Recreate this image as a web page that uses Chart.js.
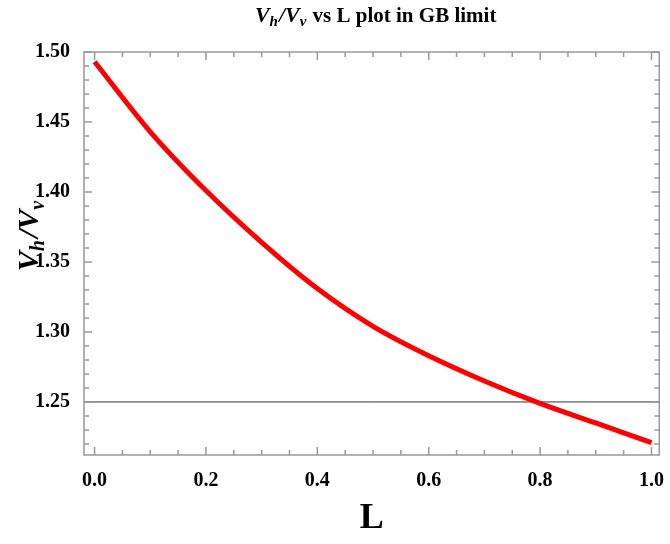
<!DOCTYPE html>
<html><head><meta charset="utf-8">
<script src="https://cdn.jsdelivr.net/npm/chart.js@4"></script>
<style>html,body{margin:0;padding:0;background:#fff}#w{width:670px;height:544px}</style>
</head><body><div id="w"><canvas id="c"></canvas></div>
<script>
const Lvals = [0,0.1,0.2,0.3,0.4,0.5,0.6,0.7,0.8,0.9,1.0];
const ratio = [1.493,1.443,1.401,1.364,1.331,1.304,1.283,1.265,1.249,1.235,1.221];
const refLine = 1.25;
const xTicks = [0,0.2,0.4,0.6,0.8,1.0];
const yTicks = [1.25,1.30,1.35,1.40,1.45,1.50];
const serif = '"Liberation Serif","DejaVu Serif",serif';

function drawSub(ctx, parts, x, y){
  let cx = x;
  for(const p of parts){
    ctx.font = (p[2]?'italic ':'')+'bold '+p[1]+'px '+serif;
    ctx.fillText(p[0], cx, y+(p[3]||0));
    cx += ctx.measureText(p[0]).width + (p[4]||0);
  }
}
function measure(ctx, parts){
  let w=0; for(const p of parts){ctx.font=(p[2]?'italic ':'')+'bold '+p[1]+'px '+serif; w+=ctx.measureText(p[0]).width+(p[4]||0);} return w;
}
const deco = {
  id:'deco',
  afterDraw(chart){
    const ctx = chart.ctx, a = chart.chartArea, xs = chart.scales.x, ys = chart.scales.y;
    ctx.save();
    ctx.strokeStyle = '#999'; ctx.lineWidth = 1.5;
    ctx.strokeRect(a.left, a.top, a.right-a.left, a.bottom-a.top);
    ctx.beginPath();
    for(let i=0;i<=20;i++){
      const v = i*0.05, px = xs.getPixelForValue(v), len = (i%4===0)?8:5;
      ctx.moveTo(px,a.bottom); ctx.lineTo(px,a.bottom-len);
      ctx.moveTo(px,a.top); ctx.lineTo(px,a.top+len);
    }
    for(let i=22;i<=50;i++){
      const v = 1+i*0.01, py = ys.getPixelForValue(v), len = (i%5===0)?8:5;
      ctx.moveTo(a.left,py); ctx.lineTo(a.left+len,py);
      ctx.moveTo(a.right,py); ctx.lineTo(a.right-len,py);
    }
    ctx.stroke();
    ctx.fillStyle = '#000'; ctx.textBaseline = 'alphabetic';
    const t = [['V',22,true],['h',15,true,4,1],['/',22,true],['V',22,true],['v',15,true,4,1],[' vs L plot in GB limit',21,false]];
    const tw = measure(ctx,t);
    drawSub(ctx,t,(a.left+a.right)/2 - tw/2 + 4, 22);
    ctx.translate(38, 236); ctx.rotate(-Math.PI/2);
    const yl = [['V',30,true],['h',20,true,6,2],['/',30,true],['V',30,true],['v',20,true,6,0]];
    const yw = measure(ctx,yl);
    drawSub(ctx,yl,-yw/2,0);
    ctx.restore();
  }
};
new Chart(document.getElementById('c'),{
  type:'line',
  data:{datasets:[
    {data:Lvals.map((x,i)=>({x,y:ratio[i]})),borderColor:'#ff0000',borderWidth:5,pointRadius:0,cubicInterpolationMode:'monotone',order:0},
    {data:[{x:-0.019,y:refLine},{x:1.014,y:refLine}],borderColor:'#333',borderWidth:1,pointRadius:0,order:1}
  ]},
  options:{
    responsive:true,maintainAspectRatio:false,animation:false,
    layout:{padding:{top:52,right:2,left:0,bottom:0}},
    plugins:{legend:{display:false},tooltip:{enabled:false}},
    scales:{
      x:{type:'linear',min:-0.019,max:1.014,border:{display:false},grid:{display:false},
        afterBuildTicks:s=>{s.ticks=xTicks.map(v=>({value:v}));},
        ticks:{font:{family:serif,weight:'bold',size:20},color:'#000',padding:6,maxRotation:0,callback:v=>v.toFixed(1)},
        title:{display:true,text:'L',font:{family:serif,weight:'bold',size:36},color:'#000',padding:{top:6}},
        afterFit:s=>{s.height=89;}},
      y:{type:'linear',min:1.2121,max:1.50,border:{display:false},grid:{display:false},
        afterBuildTicks:s=>{s.ticks=yTicks.map(v=>({value:v}));},
        ticks:{font:{family:serif,weight:'bold',size:20},color:'#000',padding:6,callback:v=>v.toFixed(2)},
        afterFit:s=>{s.width=84;}}
    }
  },
  plugins:[deco]
});
</script></body></html>
